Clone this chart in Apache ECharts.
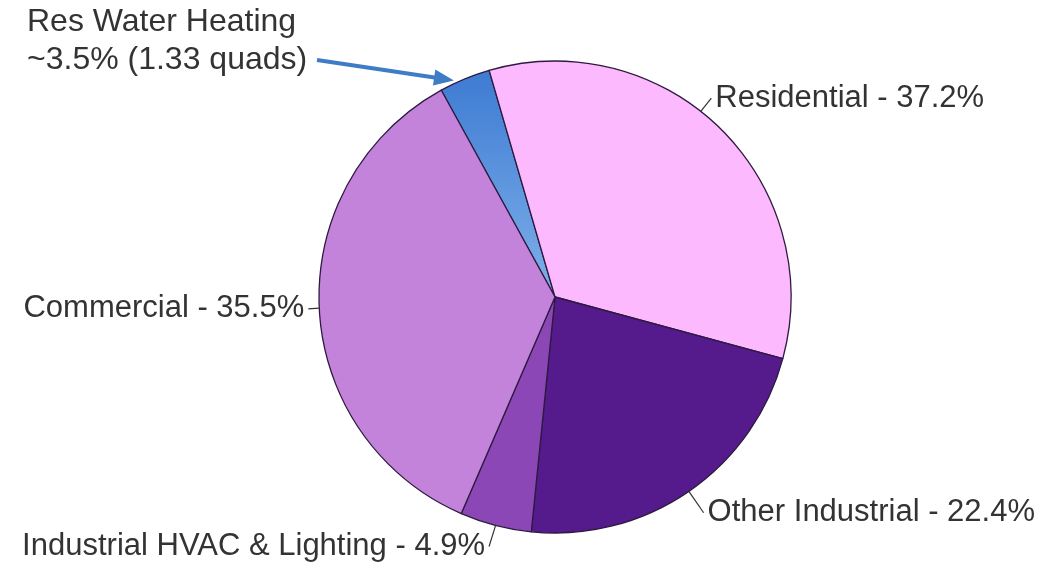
<!DOCTYPE html>
<html>
<head>
<meta charset="utf-8">
<script src="https://cdn.jsdelivr.net/npm/echarts@6/dist/echarts.min.js"></script>
<style>
html,body{margin:0;padding:0;background:#fff;}
#chart{width:1044px;height:563px;}
</style>
</head>
<body>
<div id="chart"></div>
<script>
// Slices as drawn (clockwise from the Res Water Heating wedge)
const sliceNames = ['Res Water Heating', 'Residential (other)', 'Other Industrial', 'Industrial HVAC & Lighting', 'Commercial'];
const sliceValues = [3.5, 33.7, 22.4, 4.9, 35.5];
// Sector labels (Residential includes water heating)
const labelNames = ['Residential', 'Other Industrial', 'Industrial HVAC & Lighting', 'Commercial'];
const labelValues = [37.2, 22.4, 4.9, 35.5];
const labelLineLengths = [17, 26, 26, 15];
const waterLabelLines = ['Res Water Heating', '~3.5% (1.33 quads)'];

const sliceColors = [
  {type:'linear', x:0, y:0, x2:0, y2:1, colorStops:[{offset:0,color:'#3d7bd2'},{offset:1,color:'#7fb0ea'}]},
  '#fdb9fd', '#551a8b', '#8b47b5', '#c383db'
];
const FONT = 'Liberation Sans, Arial, Helvetica, sans-serif';
const CENTER = [555, 297];
const RADIUS = 236;
const START = 118.8;

const chart = echarts.init(document.getElementById('chart'));
const option = {
  backgroundColor: '#ffffff',
  animation: false,
  series: [
    {
      type: 'pie',
      center: CENTER,
      radius: RADIUS,
      startAngle: START,
      clockwise: true,
      silent: true,
      label: {show: false},
      labelLine: {show: false},
      itemStyle: {borderColor: '#2e1a40', borderWidth: 1.3},
      emphasis: {disabled: true},
      data: sliceNames.map((n, i) => ({name: n, value: sliceValues[i], itemStyle: {color: sliceColors[i]}}))
    },
    {
      type: 'pie',
      center: CENTER,
      radius: RADIUS,
      startAngle: START,
      clockwise: true,
      silent: true,
      z: 3,
      itemStyle: {color: 'rgba(0,0,0,0)', borderWidth: 0},
      emphasis: {disabled: true},
      label: {
        show: true,
        position: 'outside',
        formatter: p => p.name + ' - ' + p.value + '%',
        fontFamily: FONT,
        fontSize: 31,
        color: '#333333',
        distanceToLabelLine: 4,
        overflow: 'none',
        edgeDistance: 0
      },
      labelLine: {show: true, length: 20, length2: 0, lineStyle: {color: '#333333', width: 1.2}},
      data: labelNames.map((n, i) => ({name: n, value: labelValues[i], labelLine: {length: labelLineLengths[i], length2: 0}}))
    }
  ]
};
chart.setOption(option);

function addAnnotation() {
  const layout = chart.getModel().getSeriesByIndex(0).getData().getItemLayout(0);
  const a = layout.startAngle + 0.3 * (layout.endAngle - layout.startAngle);
  const tipX = layout.cx + (layout.r + 3) * Math.cos(a);
  const tipY = layout.cy + (layout.r + 3) * Math.sin(a);
  const sx = 317, sy = 60;
  const dx = tipX - sx, dy = tipY - sy;
  const len = Math.sqrt(dx * dx + dy * dy);
  const ux = dx / len, uy = dy / len;
  const headLen = 20, headW = 8;
  const bx = tipX - ux * headLen, by = tipY - uy * headLen;
  const arrowColor = '#3f7cc6';
  chart.setOption({
    graphic: [
      {type: 'line', shape: {x1: sx, y1: sy, x2: bx + ux * 2, y2: by + uy * 2}, style: {stroke: arrowColor, lineWidth: 4}, z: 10},
      {type: 'polygon', shape: {points: [[tipX, tipY], [bx - uy * headW, by + ux * headW], [bx + uy * headW, by - ux * headW]]}, style: {fill: arrowColor}, z: 10},
      {type: 'text', x: 27, y: 3, style: {text: waterLabelLines.join('\n'), font: '32px ' + FONT, fill: '#333333', lineHeight: 38}, z: 10}
    ]
  });
}
addAnnotation();
</script>
</body>
</html>
